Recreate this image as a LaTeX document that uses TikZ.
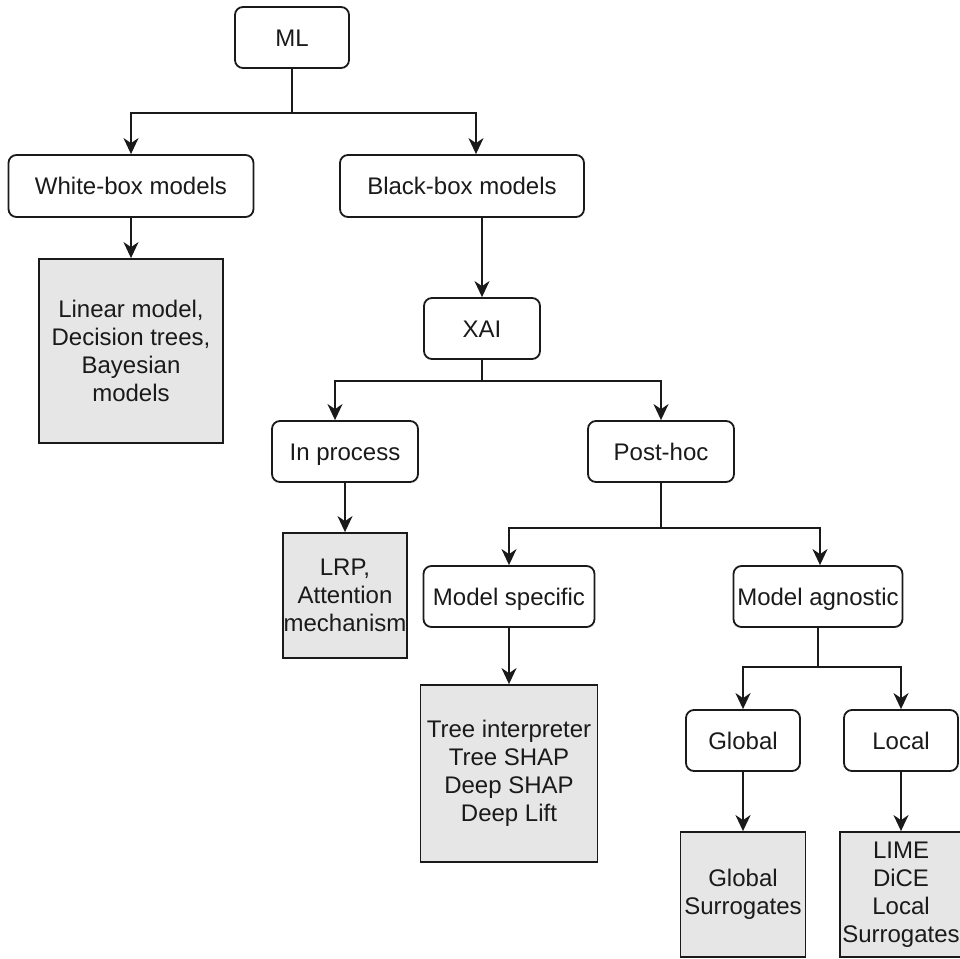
\documentclass[tikz,border=0pt]{standalone}
\usepackage{fontspec}
\setmainfont{Liberation Sans}
\usetikzlibrary{arrows.meta}
\definecolor{boxfill}{HTML}{E6E6E6}
\definecolor{ink}{HTML}{1A1A1A}
\begin{document}
\begin{tikzpicture}[x=1pt,y=-1pt,
  font=\fontsize{24}{28}\selectfont,
  catbox/.style={draw=ink, line width=1.8pt, rounded corners=8pt, fill=white,
    align=center, inner sep=0pt, text=ink, text height=17pt, text depth=0pt},
  leafbox/.style={draw=ink, line width=1.8pt, fill=boxfill,
    align=center, inner sep=0pt, text=ink},
  link/.style={draw=ink, line width=1.8pt,
    -{Stealth[length=16pt,width=15pt,inset=5pt]}},
  plain/.style={draw=ink, line width=1.8pt}]
\useasboundingbox[fill=white] (0,0) rectangle (960,958);

% category boxes and leaf boxes
\node[catbox, minimum width=114pt, minimum height=61pt] (ml) at (292,37.5) {ML};
\node[catbox, minimum width=245pt, minimum height=62pt] (wb) at (131,186) {White-box models};
\node[catbox, minimum width=244pt, minimum height=62pt] (bb) at (462,186) {Black-box models};
\node[leafbox, minimum width=184pt, minimum height=184pt] (wbx) at (131,351)
  {Linear model,\\Decision trees,\\Bayesian\\models};
\node[catbox, minimum width=116pt, minimum height=61pt] (xai) at (482,328.5) {XAI};
\node[catbox, minimum width=146pt, minimum height=61pt] (inp) at (345,451.5) {In process};
\node[catbox, minimum width=146pt, minimum height=61pt] (post) at (661,451.5) {Post-hoc};
\node[leafbox, minimum width=124pt, minimum height=125pt] (inpx) at (345,595.5)
  {LRP,\\Attention\\mechanism};
\node[catbox, minimum width=171pt, minimum height=61pt] (spec) at (509,596.5) {Model specific};
\node[catbox, minimum width=169pt, minimum height=61pt] (agn) at (818,596.5) {Model agnostic};
\node[leafbox, minimum width=177pt, minimum height=177pt] (specx) at (509,773.5)
  {Tree interpreter\\Tree SHAP\\Deep SHAP\\Deep Lift};
\node[catbox, minimum width=114pt, minimum height=61pt] (glob) at (743,740.5) {Global};
\node[catbox, minimum width=114pt, minimum height=61pt] (loc) at (901,740.5) {Local};
\node[leafbox, minimum width=125pt, minimum height=125pt] (globx) at (743,894.5)
  {Global\\Surrogates};
\node[leafbox, minimum width=122pt, minimum height=125pt] (locx) at (901,894.5)
  {LIME\\DiCE\\Local\\Surrogates};

% connectors
\draw[plain] (ml.south) -- ++(0,44) coordinate (j1);
\draw[link] (j1) -| (wb.north);
\draw[link] (j1) -| ([xshift=14pt]bb.north);
\draw[link] (wb.south) -- (wbx.north);
\draw[link] ([xshift=20pt]bb.south) -- (xai.north);

\draw[plain] (xai.south) -- ++(0,21) coordinate (j2);
\draw[link] (j2) -| ([xshift=-10pt]inp.north);
\draw[link] (j2) -| (post.north);
\draw[link] (inp.south) -- (inpx.north);

\draw[plain] (post.south) -- ++(0,45) coordinate (j3);
\draw[link] (j3) -| (spec.north);
\draw[link] (j3) -| ([xshift=2pt]agn.north);
\draw[link] (spec.south) -- (specx.north);

\draw[plain] (agn.south) -- ++(0,39) coordinate (j4);
\draw[link] (j4) -| (glob.north);
\draw[link] (j4) -| (loc.north);
\draw[link] (glob.south) -- (globx.north);
\draw[link] (loc.south) -- (locx.north);
\end{tikzpicture}
\end{document}
